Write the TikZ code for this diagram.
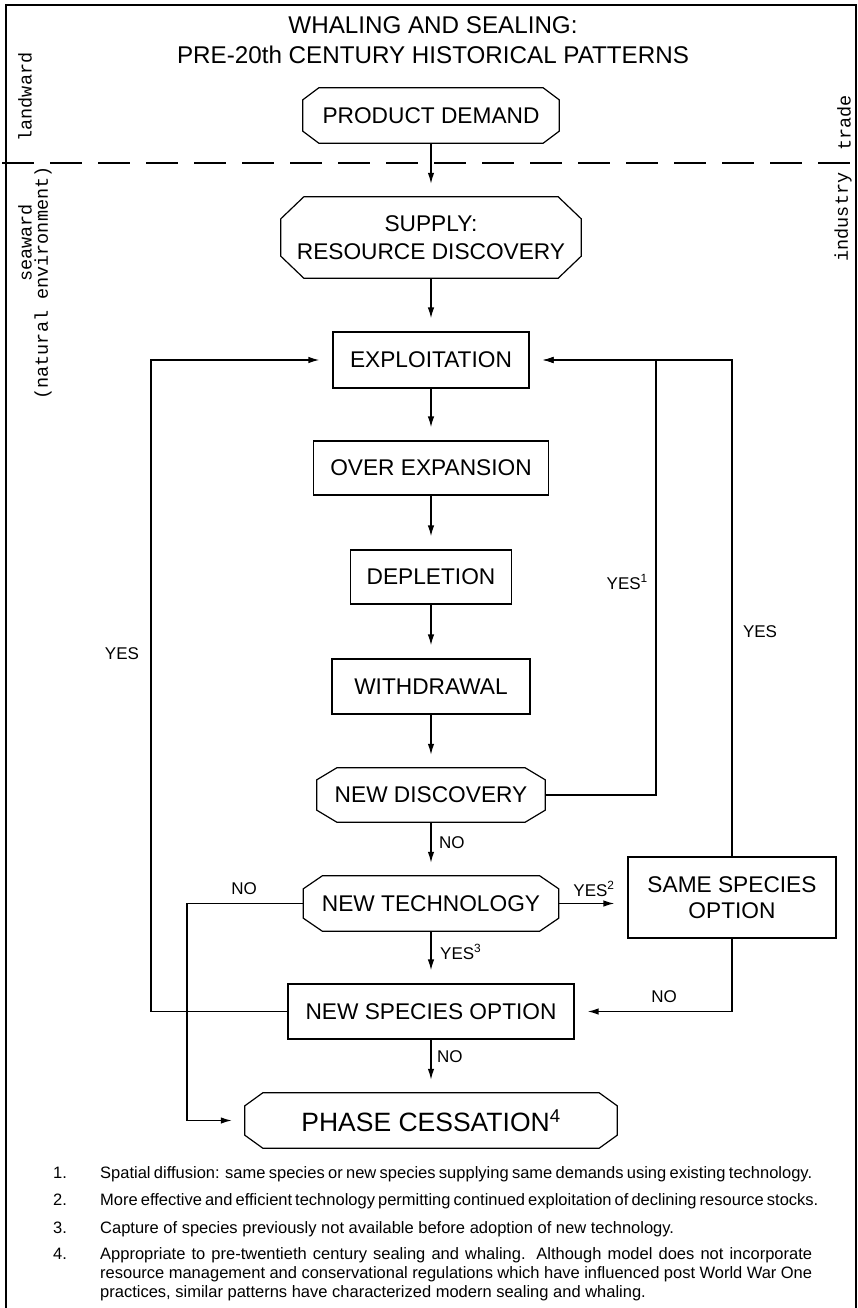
\documentclass[tikz,border=0pt]{standalone}
\usepackage{fontspec}
\setmainfont{Liberation Sans}
\newfontfamily\sidefont{Liberation Mono}
\usetikzlibrary{arrows.meta}
\newcommand\octo[3]{\draw[boxline] ([xshift=#2]#1.north west) -- ([xshift=-#2]#1.north east) -- ([yshift=-#3]#1.north east) -- ([yshift=#3]#1.south east) -- ([xshift=-#2]#1.south east) -- ([xshift=#2]#1.south west) -- ([yshift=#3]#1.south west) -- ([yshift=-#3]#1.north west) -- cycle;}
\tikzset{
  boxline/.style={line width=1.2pt, line join=miter},
  box/.style={draw, boxline, inner sep=0pt, font=\fontsize{22.7}{26}\selectfont, align=center},
  oct/.style={inner sep=0pt, font=\fontsize{22.7}{26}\selectfont, align=center},
  conn/.style={line width=1.4pt},
  arr/.style={conn, -{Latex[length=11pt,width=6.5pt]}, shorten >=13pt},
  lab/.style={inner sep=0pt, font=\fontsize{17}{20}\selectfont},
  side/.style={inner sep=0pt, rotate=90, font=\sidefont\fontsize{18.5}{20}\selectfont},
  fn/.style={inner sep=0pt, font=\fontsize{16.5}{19}\selectfont},
  ttl/.style={inner sep=0pt, font=\fontsize{24.2}{28}\selectfont}
}
\begin{document}
\begin{tikzpicture}[x=1pt, y=-1pt]
\useasboundingbox (0,0) rectangle (858,1308);
% frame
\draw[line width=2pt] (6,1330) -- (6,5) -- (856,5) -- (856,1330);
% dashed divider
\draw[line width=1.5pt, dash pattern=on 32pt off 16pt] (2,163) -- (858,163);
% title
\node[ttl] (t1) at (433,25.5) {WHALING AND SEALING:};
\node[ttl] (t2) at (433,55) {PRE-20th CENTURY HISTORICAL PATTERNS};
% side labels
\node[side] (land) at (25,97) {landward};
\node[side] (sea) at (25,243) {seaward};
\node[side] (nat) at (43,283) {(natural environment)};
\node[side] (trade) at (844,123) {trade};
\node[side] (ind) at (843,217) {industry};
% nodes
\node[oct, minimum width=256pt, minimum height=55pt] (pd) at (431,115.5) {PRODUCT DEMAND};
\octo{pd}{16pt}{12pt}
\node[oct, minimum width=300pt, minimum height=81pt, font=\fontsize{22.7}{28}\selectfont] (sup) at (431,237.5) {SUPPLY:\\RESOURCE DISCOVERY};
\octo{sup}{23pt}{22pt}
\node[box, minimum width=196pt, minimum height=56pt] (ex) at (431,360) {EXPLOITATION};
\node[box, minimum width=235pt, minimum height=54pt] (oe) at (431,468) {OVER EXPANSION};
\node[box, minimum width=161pt, minimum height=54pt] (dep) at (431,577) {DEPLETION};
\node[box, minimum width=198pt, minimum height=55pt] (wd) at (431,686.5) {WITHDRAWAL};
\node[oct, minimum width=228pt, minimum height=54pt] (nd) at (431,795) {NEW DISCOVERY};
\octo{nd}{20pt}{12pt}
\node[oct, minimum width=255pt, minimum height=55pt] (nt) at (431,903.5) {NEW TECHNOLOGY};
\octo{nt}{19pt}{13pt}
\node[box, minimum width=208pt, minimum height=81pt] (ss) at (732,897.5) {SAME SPECIES\\OPTION};
\node[box, minimum width=286pt, minimum height=55pt] (ns) at (431,1011.5) {NEW SPECIES OPTION};
\node[oct, minimum width=372pt, minimum height=55pt, font=\fontsize{26.5}{30}\selectfont] (pc) at (431,1120.5) {PHASE CESSATION\textsuperscript{4}};
\octo{pc}{18pt}{13pt}
% helper coordinates
\coordinate (yesA) at (656,600);
\coordinate (lyes) at (151,700);
\coordinate (lno) at (187,1000);
% main column
\draw[arr] (pd.south) -- (sup.north);
\draw[arr] (sup.south) -- (ex.north);
\draw[arr] (ex.south) -- (oe.north);
\draw[arr] (oe.south) -- (dep.north);
\draw[arr] (dep.south) -- (wd.north);
\draw[arr] (wd.south) -- (nd.north);
\draw[arr] (nd.south) -- (nt.north);
\draw[arr] (nt.south) -- (ns.north);
\draw[arr] (ns.south) -- (pc.north);
% loops
\draw[arr] (nd.east) -| (yesA) |- (ex.east);
\draw[arr] (ss.north) |- (ex.east);
\draw[arr] (ns.west) -| (lyes) |- (ex.west);
\draw[arr] (nt.west) -| (lno) |- (pc.west);
\draw[arr] (nt.east) -- (nt.east -| ss.west);
\draw[arr] (ss.south) |- (ns.east);
% labels
\node[lab, anchor=east] (l1) at (648,582) {YES\textsuperscript{1}};
\node[lab] (l2) at (122,654) {YES};
\node[lab] (l3) at (760,632) {YES};
\node[lab, anchor=west] (l4) at (439,843) {NO};
\node[lab] (l5) at (244,889) {NO};
\node[lab] (l6) at (594,889) {YES\textsuperscript{2}};
\node[lab, anchor=west] (l7) at (440,952) {YES\textsuperscript{3}};
\node[lab] (l8) at (664,997) {NO};
\node[lab, anchor=west] (l9) at (437,1057) {NO};
% footnotes
\node[fn, anchor=base west] (n1) at (53,1178) {1.};
\node[fn, anchor=base west] (f1) at (100,1178) {\makebox[712pt][s]{Spatial diffusion: same species or new species supplying same demands using existing technology.}};
\node[fn, anchor=base west] (n2) at (53,1205) {2.};
\node[fn, anchor=base west] (f2) at (100,1205) {\makebox[710pt][s]{More effective and efficient technology permitting continued exploitation of declining resource stocks.}};
\node[fn, anchor=base west] (n3) at (53,1233) {3.};
\node[fn, anchor=base west] (f3) at (100,1233) {Capture of species previously not available before adoption of new technology.};
\node[fn, anchor=base west] (n4) at (53,1259) {4.};
\node[fn, anchor=base west] (f4a) at (100,1259) {\makebox[712pt][s]{Appropriate to pre-twentieth century sealing and whaling. Although model does not incorporate}};
\node[fn, anchor=base west] (f4b) at (100,1278) {\makebox[712pt][s]{resource management and conservational regulations which have influenced post World War One}};
\node[fn, anchor=base west] (f4c) at (100,1297) {practices, similar patterns have characterized modern sealing and whaling.};
\end{tikzpicture}
\end{document}
